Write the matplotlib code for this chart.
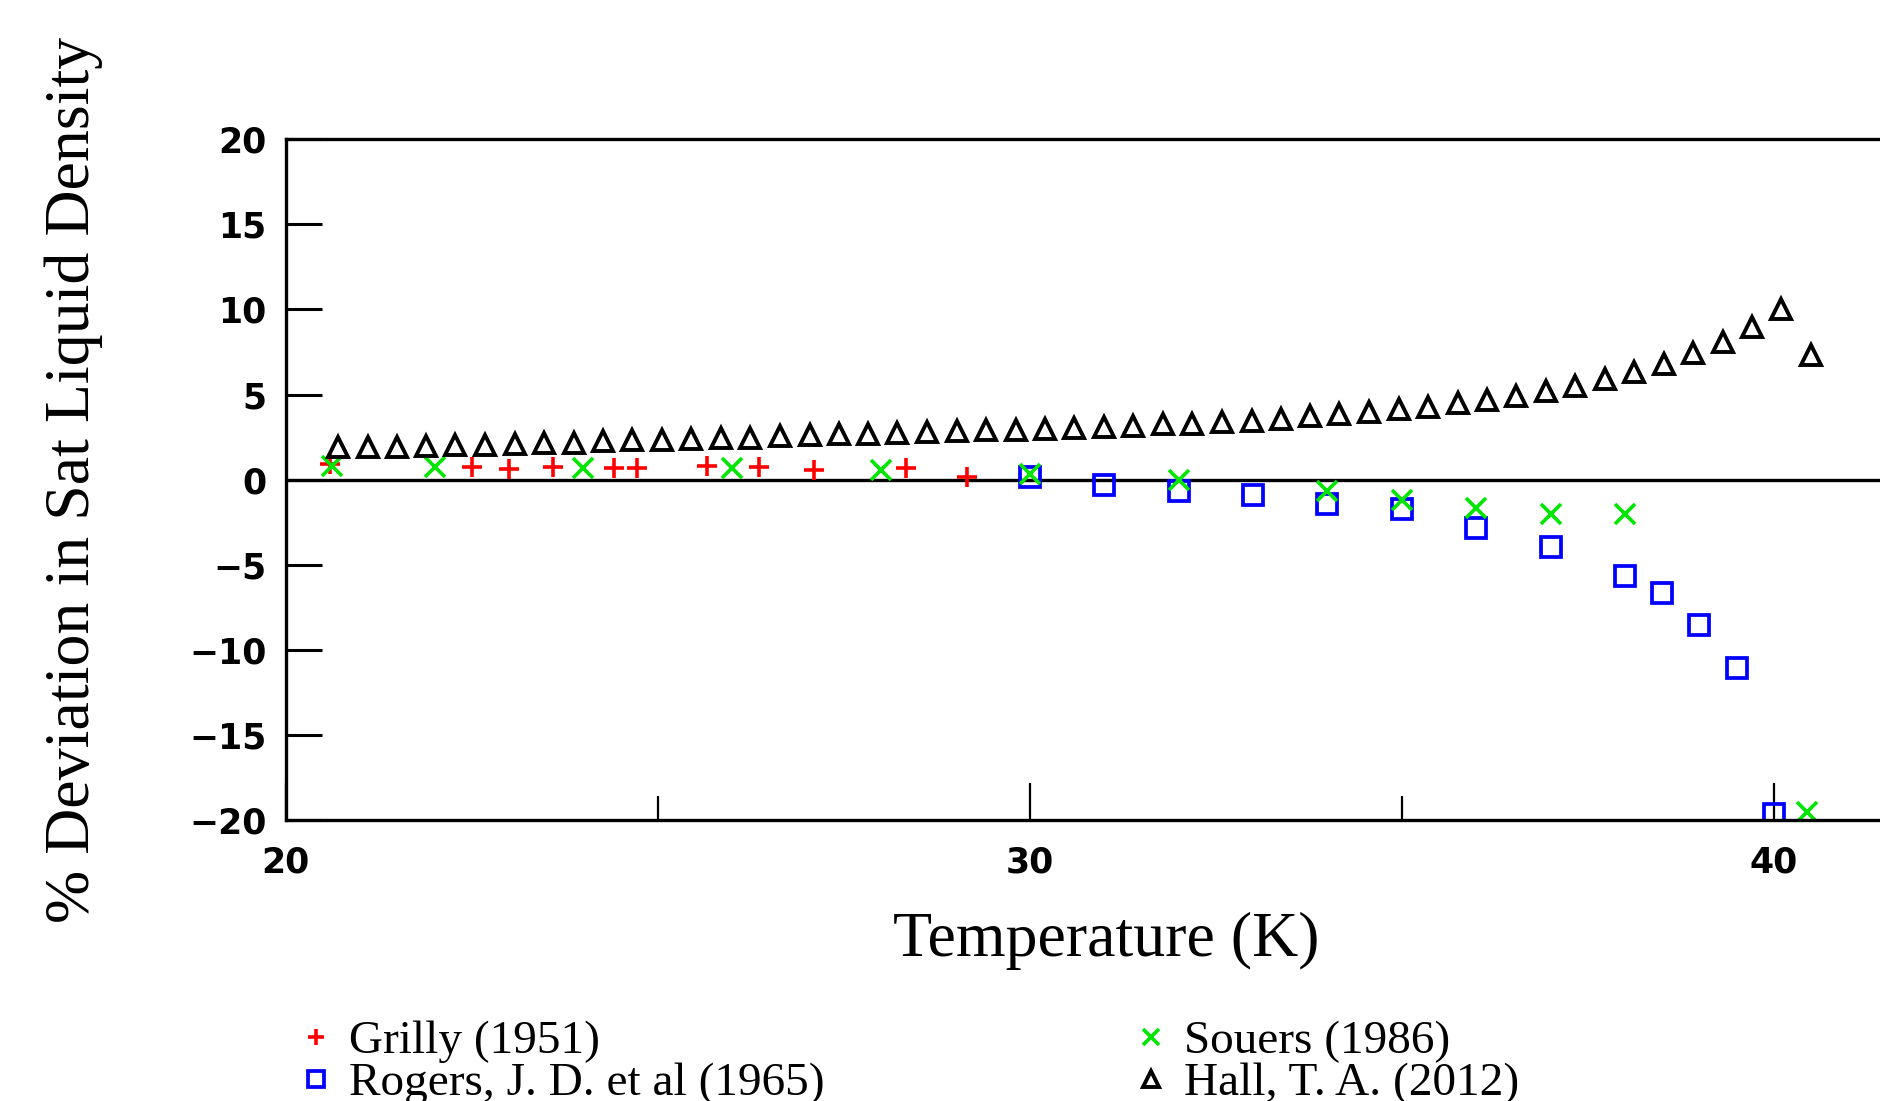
import matplotlib.pyplot as plt
from matplotlib.ticker import MultipleLocator

# Grilly (1951)
grilly_T = [20.60, 22.50, 23.00, 23.59, 24.41, 24.72, 25.66, 26.36, 27.10, 28.33, 29.15]
grilly_dev = [0.94, 0.74, 0.61, 0.74, 0.70, 0.70, 0.80, 0.74, 0.55, 0.70, 0.16]

# Rogers, J. D. et al (1965)
rogers_T = [30.0, 31.0, 32.0, 33.0, 34.0, 35.0, 36.0, 37.0, 38.0, 38.5, 39.0, 39.5, 40.0]
rogers_dev = [0.16, -0.31, -0.68, -0.88, -1.43, -1.72, -2.82, -3.95, -5.66, -6.67, -8.55, -11.06, -19.6]

# Souers (1986)
souers_T = [20.62, 22.0, 24.0, 26.0, 28.0, 30.0, 32.0, 34.0, 35.0, 36.0, 37.0, 38.0, 40.45]
souers_dev = [0.84, 0.74, 0.70, 0.68, 0.59, 0.35, 0.0, -0.68, -1.17, -1.68, -2.03, -2.03, -19.5]

# Hall, T. A. (2012)
hall_T = [20.70, 21.10, 21.49, 21.89, 22.28, 22.68, 23.08, 23.47, 23.87, 24.26,
          24.66, 25.06, 25.45, 25.85, 26.24, 26.64, 27.04, 27.43, 27.83, 28.22,
          28.62, 29.02, 29.41, 29.81, 30.20, 30.60, 31.00, 31.39, 31.79, 32.18,
          32.58, 32.98, 33.37, 33.77, 34.16, 34.56, 34.96, 35.35, 35.75, 36.14,
          36.54, 36.94, 37.33, 37.73, 38.12, 38.52, 38.92, 39.31, 39.71, 40.10, 40.50]
hall_dev = [1.90, 1.90, 1.90, 2.00, 2.05, 2.05, 2.09, 2.15, 2.19, 2.27,
            2.31, 2.31, 2.41, 2.47, 2.47, 2.56, 2.62, 2.68, 2.68, 2.76,
            2.78, 2.88, 2.90, 2.93, 3.00, 3.07, 3.09, 3.17, 3.25, 3.29,
            3.39, 3.48, 3.58, 3.72, 3.84, 3.97, 4.13, 4.30, 4.50, 4.70,
            4.95, 5.19, 5.50, 5.93, 6.32, 6.81, 7.44, 8.10, 8.96, 10.04, 7.30]

serif = 'Liberation Serif'

fig = plt.figure(figsize=(18.81, 11.01), dpi=100)
ax = fig.add_axes([0.1519, 0.2548, 0.8481, 0.6188])

ax.axhline(0, color='black', lw=2.4, zorder=1)

h_grilly, = ax.plot(grilly_T, grilly_dev, ls='none', marker='+', ms=15, mew=2.6,
                    color='#ff0000', label='Grilly (1951)')
h_rogers, = ax.plot(rogers_T, rogers_dev, ls='none', marker='s', ms=14, mew=2.7,
                    mfc='none', mec='#0000ff', label='Rogers, J. D. et al (1965)')
h_souers, = ax.plot(souers_T, souers_dev, ls='none', marker='x', ms=14.5, mew=2.6,
                    color='#00e600', label='Souers (1986)')
h_hall, = ax.plot(hall_T, hall_dev, ls='none', marker='^', ms=15, mew=2.8,
                  mfc='none', mec='black', label='Hall, T. A. (2012)')

ax.set_xlim(20, 41.44)
ax.set_ylim(-20, 20)
ax.xaxis.set_major_locator(MultipleLocator(10))
ax.xaxis.set_minor_locator(MultipleLocator(5))
ax.yaxis.set_major_locator(MultipleLocator(5))

ax.tick_params(axis='y', which='major', direction='in', length=26, width=2.2,
               labelsize=25, pad=14)
ax.tick_params(axis='x', which='major', direction='in', length=27, width=1.6,
               labelsize=25, pad=18)
ax.tick_params(axis='x', which='minor', direction='in', length=17, width=1.6)
for lbl in ax.get_xticklabels() + ax.get_yticklabels():
    lbl.set_fontweight('bold')

for side in ['left', 'bottom', 'top']:
    ax.spines[side].set_linewidth(2.4)
ax.spines['right'].set_visible(False)

fig.text(0.588, 0.145, 'Temperature (K)', ha='center', va='center',
         family=serif, fontsize=46)
fig.text(0.039, 0.564, '% Deviation in Sat Liquid Density', ha='center', va='center',
         rotation=90, family=serif, fontsize=46)

fig.legend([h_grilly, h_rogers, h_souers, h_hall],
           [h.get_label() for h in [h_grilly, h_rogers, h_souers, h_hall]],
           loc='upper left', bbox_to_anchor=(0.158, 0.0734), ncol=2, frameon=False,
           prop={'family': serif, 'size': 34}, handlelength=0.8, handletextpad=0.3,
           columnspacing=6.5, labelspacing=-0.02, borderpad=0, borderaxespad=0,
           markerscale=0.8)

fig.savefig('out.png', dpi=100)
